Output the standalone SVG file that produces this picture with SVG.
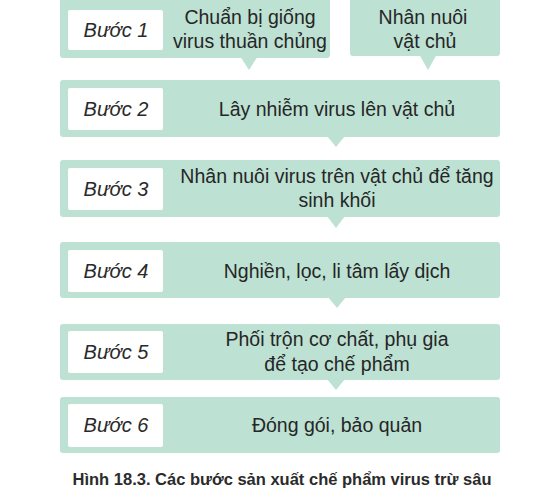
<svg xmlns="http://www.w3.org/2000/svg" width="550" height="495" viewBox="0 0 550 495">
<style>
.box{fill:#bde1d3}
.lab{fill:#ffffff}
.tip{fill:#bde1d3}
.step{font-family:"Liberation Sans",Arial,sans-serif;font-style:italic;font-size:20px;fill:#2a2a2a;text-anchor:middle}
.txt{font-family:"Liberation Sans",Arial,sans-serif;font-size:19.5px;fill:#262626;text-anchor:middle}
.cap{font-family:"Liberation Sans",Arial,sans-serif;font-weight:bold;font-size:16.5px;fill:#2b2b2b;text-anchor:middle}
</style>
<rect width="550" height="495" fill="#ffffff"/>
<g id="connectors">
<polygon class="tip" points="240,56 258,56 249,70"/>
<polygon class="tip" points="419,54 437,54 428,70"/>
<polygon class="tip" points="327,136 345,136 336,147"/>
<polygon class="tip" points="327,216 345,216 336,228"/>
<polygon class="tip" points="328,297 346,297 337,308"/>
<polygon class="tip" points="327,379 345,379 336,390"/>
</g>
<g id="step1">
<rect class="box" x="60" y="-6" width="270" height="64" rx="3"/>
<rect class="lab" x="68" y="10" width="95" height="40" rx="2"/>
<text class="step" x="116" y="37">Bước 1</text>
<text class="txt" x="250" y="24">Chuẩn bị giống</text>
<text class="txt" x="250" y="48">virus thuần chủng</text>
</g>
<g id="step1b">
<rect class="box" x="350" y="-6" width="150" height="62" rx="3"/>
<text class="txt" x="423" y="24">Nhân nuôi</text>
<text class="txt" x="425" y="48">vật chủ</text>
</g>
<g id="step2">
<rect class="box" x="60" y="80" width="440" height="57" rx="3"/>
<rect class="lab" x="68" y="88" width="95" height="42" rx="2"/>
<text class="step" x="116" y="116">Bước 2</text>
<text class="txt" x="337" y="116">Lây nhiễm virus lên vật chủ</text>
</g>
<g id="step3">
<rect class="box" x="60" y="160" width="440" height="57" rx="3"/>
<rect class="lab" x="68" y="168" width="95" height="42" rx="2"/>
<text class="step" x="116" y="196">Bước 3</text>
<text class="txt" x="337" y="183">Nhân nuôi virus trên vật chủ để tăng</text>
<text class="txt" x="337" y="207">sinh khối</text>
</g>
<g id="step4">
<rect class="box" x="60" y="242" width="440" height="56" rx="3"/>
<rect class="lab" x="68" y="250" width="95" height="42" rx="2"/>
<text class="step" x="116" y="278">Bước 4</text>
<text class="txt" x="337" y="278">Nghiền, lọc, li tâm lấy dịch</text>
</g>
<g id="step5">
<rect class="box" x="60" y="324" width="440" height="56" rx="3"/>
<rect class="lab" x="68" y="331" width="95" height="42" rx="2"/>
<text class="step" x="116" y="359">Bước 5</text>
<text class="txt" x="337" y="346">Phối trộn cơ chất, phụ gia</text>
<text class="txt" x="337" y="371">để tạo chế phẩm</text>
</g>
<g id="step6">
<rect class="box" x="60" y="397" width="440" height="56" rx="3"/>
<rect class="lab" x="68" y="404" width="95" height="43" rx="2"/>
<text class="step" x="116" y="432">Bước 6</text>
<text class="txt" x="337" y="432">Đóng gói, bảo quản</text>
</g>
<text class="cap" x="282" y="485">Hình 18.3. Các bước sản xuất chế phẩm virus trừ sâu</text>
</svg>
